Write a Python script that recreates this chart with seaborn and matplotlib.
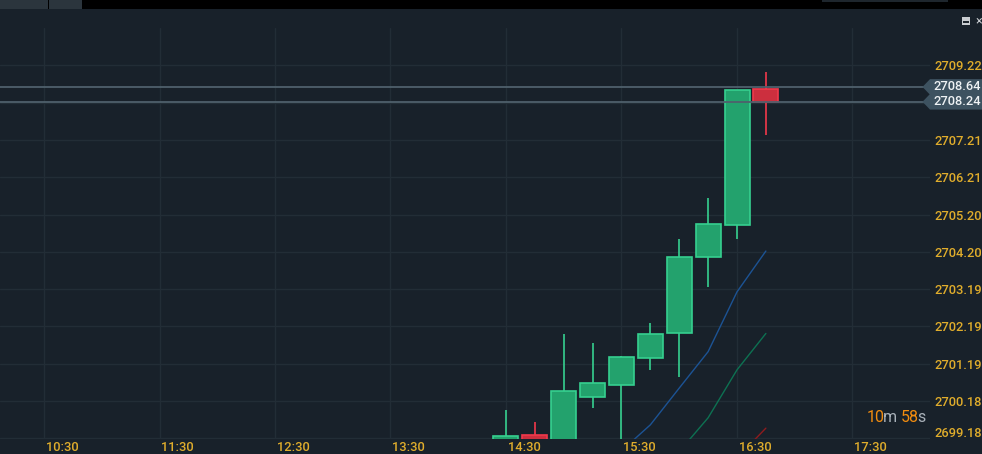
import numpy as np
import pandas as pd
import matplotlib
matplotlib.use("Agg")
import matplotlib.pyplot as plt
import matplotlib.transforms as mtransforms
from matplotlib.patches import Polygon, Rectangle
import seaborn as sns

# 15 minute candles
times = ["14:30", "14:45", "15:00", "15:15", "15:30", "15:45", "16:00", "16:15", "16:30", "16:45"]
opens = [2699.10, 2699.27, 2699.10, 2700.30, 2700.62, 2701.33, 2702.00, 2704.05, 2704.91, 2708.58]
highs = [2699.94, 2699.62, 2701.99, 2701.74, 2701.38, 2702.28, 2704.54, 2705.65, 2708.56, 2709.04]
lows = [2698.95, 2698.90, 2699.00, 2699.99, 2698.90, 2701.02, 2700.84, 2703.26, 2704.55, 2707.35]
closes = [2699.24, 2699.10, 2700.45, 2700.67, 2701.37, 2701.99, 2704.05, 2704.94, 2708.55, 2708.24]

# moving averages
ma_blue_times = ["15:30", "15:45", "16:00", "16:15", "16:30", "16:45"]
ma_blue = [2698.84, 2699.54, 2700.53, 2701.51, 2703.12, 2704.22]
ma_green_times = ["16:00", "16:15", "16:30", "16:45"]
ma_green = [2698.82, 2699.73, 2701.02, 2702.00]
ma_red_times = ["16:30", "16:45"]
ma_red = [2698.65, 2699.45]

# axes labels
hour_ticks = ["10:30", "11:30", "12:30", "13:30", "14:30", "15:30", "16:30", "17:30"]
price_ticks = [2699.18, 2700.18, 2701.19, 2702.19, 2703.19, 2704.20, 2705.20,
               2706.21, 2707.21, 2708.21, 2709.22]
price_lines = [2708.64, 2708.24]
countdown = ["10", "m", "58", "s"]

BG = "#18212a"
GRID = "#222d36"
GOLD = "#e0ad2c"
UP_FACE, UP_EDGE = "#23a26d", "#36d08f"
DN_FACE, DN_EDGE = "#cc2f3e", "#f2384b"


def to_hours(t):
    h, m = t.split(":")
    return int(h) + int(m) / 60


sns.set_style("dark", {"axes.facecolor": BG, "figure.facecolor": BG,
                       "grid.color": GRID, "axes.grid": True})
plt.rcParams["font.family"] = ["Roboto", "DejaVu Sans"]

W, H = 982, 454
fig = plt.figure(figsize=(W / 100, H / 100), dpi=100)
fig.patch.set_facecolor(BG)

# plot region in pixels: x 0..930, y 28..438.7
ax = fig.add_axes([0, (H - 438.7) / H, 930 / W, (438.7 - 28) / H])
ax.set_facecolor(BG)
for s in ax.spines.values():
    s.set_visible(False)

df = pd.DataFrame({"t": [to_hours(t) for t in times], "open": opens,
                   "high": highs, "low": lows, "close": closes})
df["up"] = df["close"] >= df["open"]

body_w = 25 / 115.5
for _, r in df.iterrows():
    edge = UP_EDGE if r["up"] else DN_EDGE
    face = UP_FACE if r["up"] else DN_FACE
    ax.vlines(r["t"], r["low"], r["high"], color=edge, lw=1.2, zorder=3)
    lo, hi = min(r["open"], r["close"]), max(r["open"], r["close"])
    ax.bar(r["t"], hi - lo, bottom=lo, width=body_w, color=face,
           edgecolor=edge, linewidth=1.2, zorder=4)

ma_df = pd.concat([
    pd.DataFrame({"t": [to_hours(t) for t in ma_blue_times], "v": ma_blue, "ma": "blue"}),
    pd.DataFrame({"t": [to_hours(t) for t in ma_green_times], "v": ma_green, "ma": "green"}),
    pd.DataFrame({"t": [to_hours(t) for t in ma_red_times], "v": ma_red, "ma": "red"}),
])
sns.lineplot(data=ma_df, x="t", y="v", hue="ma", ax=ax, legend=False, lw=1.0,
             palette={"blue": "#1c5394", "green": "#0d7152", "red": "#8e1b1e"}, zorder=2)

for p in price_lines:
    ax.axhline(p, color="#4f606c", lw=1.3, zorder=5)

ax.set_xlim(10.5 - 44 / 115.5, 10.5 + 886 / 115.5)
ax.set_ylim(2699.166, 2710.227)

ax.set_xticks([to_hours(t) for t in hour_ticks])
ax.set_xticklabels(hour_ticks, ha="left")
ax.set_yticks(price_ticks)
ax.set_yticklabels([f"{p:.2f}" for p in price_ticks])
ax.yaxis.tick_right()
ax.tick_params(axis="both", length=0, labelsize=9.3, colors=GOLD)
ax.tick_params(axis="x", pad=2)
ax.tick_params(axis="y", pad=3)
ax.set_xlabel("")
ax.set_ylabel("")
ax.grid(True, color=GRID, lw=1)
for lbl in ax.get_xticklabels() + ax.get_yticklabels():
    lbl.set_fontweight("medium")

# nudge x labels right of their gridline, lift the clamped bottom price label
for lbl in ax.get_xticklabels():
    lbl.set_transform(lbl.get_transform() + mtransforms.ScaledTranslation(2 / 100, 0, fig.dpi_scale_trans))
ylbls = ax.get_yticklabels()
ylbls[0].set_transform(ylbls[0].get_transform() + mtransforms.ScaledTranslation(0, 6 / 100, fig.dpi_scale_trans))
# the 2708.21 label sits under the price tag
ylbls[price_ticks.index(2708.21)].set_visible(False)

# price tags on the right
for p in price_lines:
    yd = ax.transData.transform((0, p))[1]
    poly = Polygon([(922.5, yd), (930, yd + 7.8), (W, yd + 7.8), (W, yd - 7.8), (930, yd - 7.8)],
                   closed=True, transform=None, facecolor="#3d5260", edgecolor="none", zorder=20)
    fig.patches.append(poly)
    fig.text(934 / W, yd / H, f"{p:.2f}", color="#eef2f4", fontsize=9.3, fontweight="medium",
             va="center", ha="left", zorder=21)

# top bar
def box(x, y, w, h, c, z=11):
    fig.patches.append(Rectangle((x, y), w, h, transform=None, facecolor=c,
                                 edgecolor="none", linewidth=0, zorder=z))

box(0, H - 9, W, 9, "#000000", 10)
box(0, H - 9, 48, 9, "#2b353d")
box(49, H - 9, 33, 9, "#2b353d")
box(822, H - 2, 126, 2, "#1e262d")
box(962, H - 25, 8, 8, "#c9cdd1")
box(963, H - 22.5, 6, 2, "#1e262d", 12)
fig.text(975 / W, (H - 21) / H, "×", color="#c9cdd1", fontsize=9, va="center", ha="left")

# countdown "10m 58s"
cd_x = [866.5, 882.5, 900.5, 917]
cd_c = ["#f28c0f", "#a9b1b9", "#f28c0f", "#a9b1b9"]
for txt, xp, c in zip(countdown, cd_x, cd_c):
    fig.text(xp / W, (H - 417.7) / H, txt, color=c, fontsize=11.5, va="center", ha="left")

fig.savefig("out.png", dpi=100, facecolor=BG)
